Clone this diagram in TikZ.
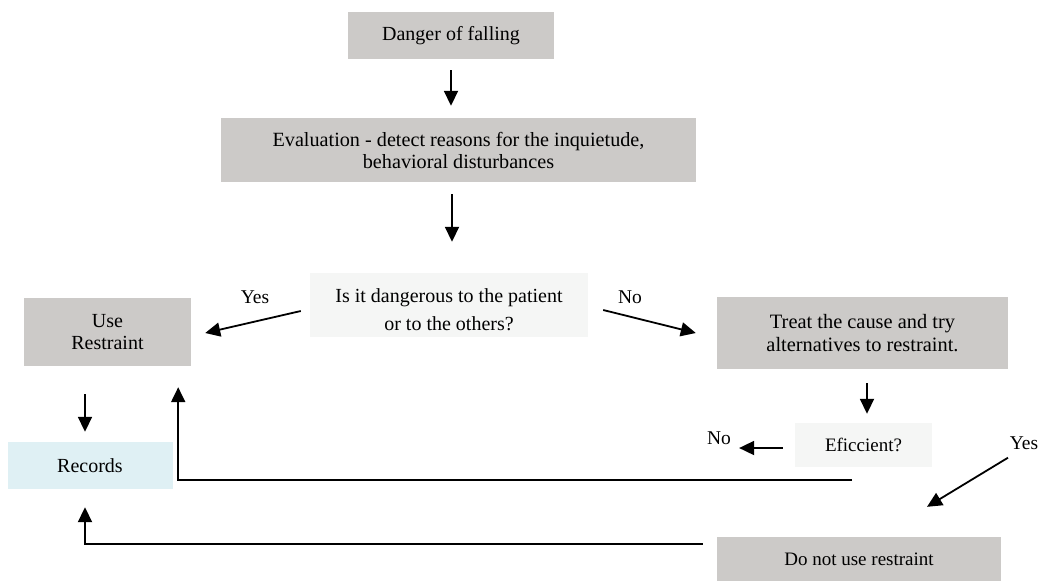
\documentclass[tikz,border=0pt]{standalone}
\usepackage{fontspec}
\setmainfont{Liberation Serif}
\usetikzlibrary{arrows.meta,calc}
\definecolor{boxgrey}{RGB}{204,202,200}
\definecolor{boxlight}{RGB}{245,246,245}
\definecolor{boxblue}{RGB}{223,240,244}
\begin{document}
\begin{tikzpicture}[x=1pt,y=-1pt,
  box/.style={rectangle,inner sep=0pt,align=center,font=\fontsize{20}{22}\selectfont},
  greybox/.style={box,fill=boxgrey},
  lightbox/.style={box,fill=boxlight},
  bluebox/.style={box,fill=boxblue},
  lbl/.style={inner sep=0pt,font=\fontsize{19.5}{22}\selectfont},
  arr/.style={line width=1.8pt,-{Triangle[length=15pt,width=14pt]}},
  loopline/.style={line width=2pt,-{Triangle[length=15pt,width=14pt]}}]
\useasboundingbox (0,0) rectangle (1038,582);

\node[greybox,minimum width=206pt,minimum height=47pt] (danger) at (451,35.5) {Danger of falling};
\node[greybox,minimum width=475pt,minimum height=64pt,font=\fontsize{20.2}{22}\selectfont] (eval) at (458.5,150) {Evaluation - detect reasons for the inquietude,\\behavioral disturbances};
\node[lightbox,minimum width=278pt,minimum height=64pt,
  label={[align=center,inner sep=0pt,yshift=-5pt,font=\fontsize{20}{28}\selectfont]center:Is it dangerous to the patient\\or to the others?}] (quest) at (449,305) {};
\node[greybox,minimum width=167pt,minimum height=68pt] (use) at (107.5,332) {Use\\Restraint};
\node[greybox,minimum width=291pt,minimum height=72pt,font=\fontsize{20.4}{23}\selectfont] (treat) at (862.5,333) {Treat the cause and try\\alternatives to restraint.};
\node[lightbox,minimum width=137pt,minimum height=44pt,font=\fontsize{19}{22}\selectfont] (eff) at (863.5,445) {Eficcient?};
\node[bluebox,minimum width=165pt,minimum height=47pt] (records) at (90,465.5) {Records};
\node[greybox,minimum width=284pt,minimum height=44pt,font=\fontsize{19}{22}\selectfont] (donot) at (859,559) {Do not use restraint};

\node[lbl] (yes1) at (255,297) {Yes};
\node[lbl] (no1) at (630,297) {No};
\node[lbl] (no2) at (719,438) {No};
\node[lbl] (yes2) at (1024,443) {Yes};

\draw[arr,shorten <=11pt,shorten >=12pt] (danger.south) -- (danger.south |- eval.north);
\draw[arr] ($(eval.south)+(-6.5,12)$) -- ($(quest.north)+(3,-31)$);
\draw[arr] ($(quest.west)+(-9,6)$) -- ($(use.east)+(14,1)$);
\draw[arr] ($(quest.east)+(15,5)$) -- ($(treat.west)+(-21,0)$);
\draw[arr] ($(treat.south)+(4.5,14)$) -- ($(eff.north)+(3.5,-9)$);
\draw[arr] ($(eff.west)+(-12,3)$) -- ($(no2.east)+(8,10)$);
\draw[arr] ($(yes2.south)+(-16,8)$) -- ($(donot.north)+(68,-30)$);
\draw[arr] ($(use.south)+(-22.5,28)$) -- ($(records.north)+(-5,-10)$);
\draw[loopline] ($(eff.south)+(-11.5,13)$) -| ($(use.south east)+(-13,21)$);
\draw[loopline] ($(donot.north west)+(-14,7)$) -| ($(records.south)+(-5,18)$);
\end{tikzpicture}
\end{document}
